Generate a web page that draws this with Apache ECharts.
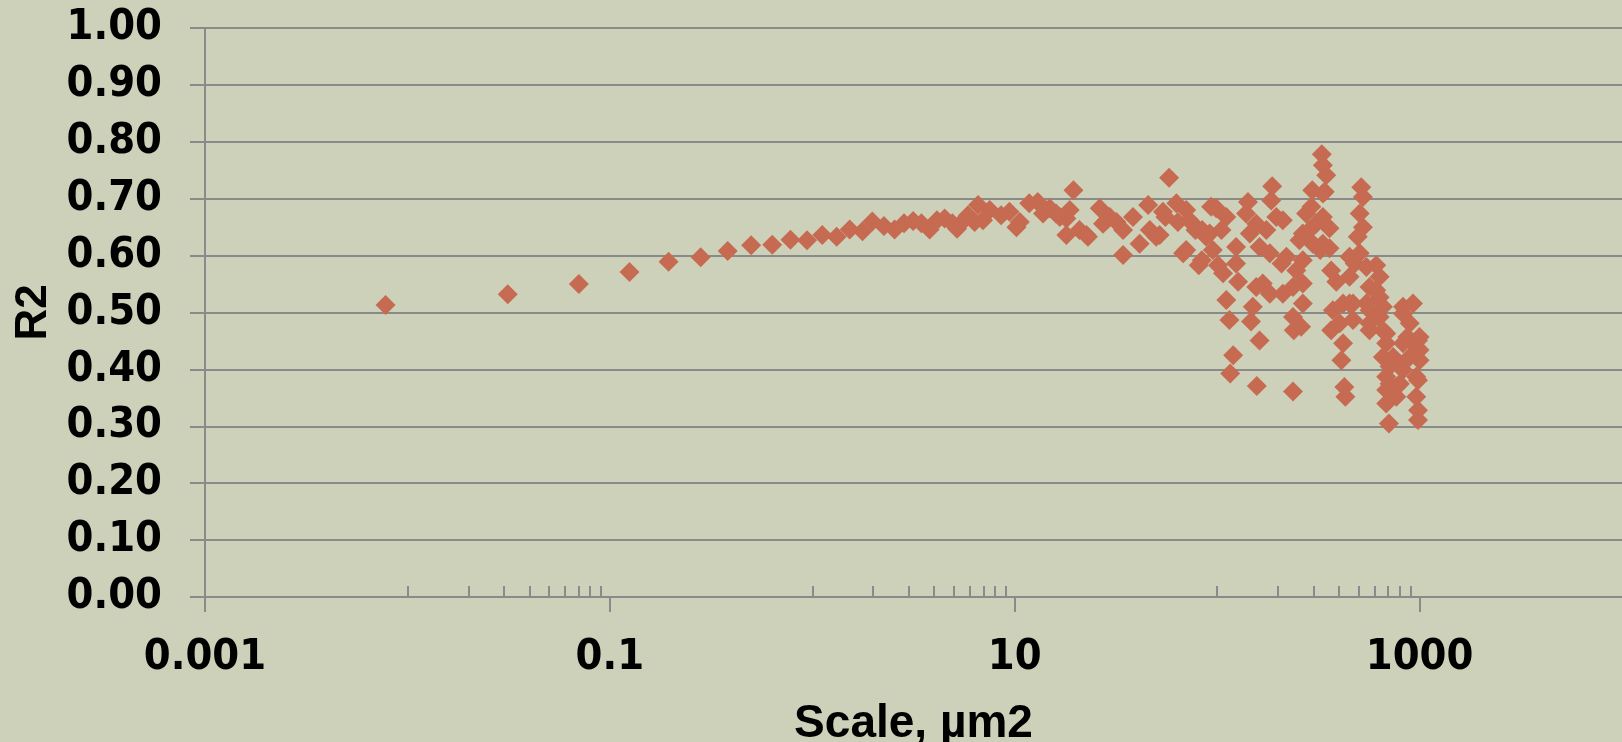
<!DOCTYPE html>
<html>
<head>
<meta charset="utf-8">
<script src="https://cdn.jsdelivr.net/npm/echarts@6/dist/echarts.min.js"></script>
<style>
  html, body { margin: 0; padding: 0; background: #cdd1b9; }
  #chart { width: 1622px; height: 742px; }
</style>
</head>
<body>
<div id="chart"></div>
<script>
// Scale (µm²) of each analysis window and the R² obtained at that scale
const scaleUm2 = [
  0.0078, 0.0313, 0.0703, 0.125, 0.195, 0.281, 0.382, 0.499, 0.634, 0.780,
  0.942, 1.12, 1.32, 1.53, 1.77, 1.98, 2.26, 2.55, 2.84, 3.15,
  3.46, 3.80, 4.13, 4.51, 4.92, 5.19, 5.56, 5.88, 6.34, 6.59,
  6.97, 7.53, 8.57, 9.42, 10.2, 10.6, 11.8, 13.0, 13.8, 14.9,
  16.0, 16.7, 18.0, 18.7, 19.5, 18.0, 20.9, 22.6, 23.0, 26.3,
  27.3, 28.4, 29.5, 31.8, 34.3, 34.3, 38.4, 41.4, 45.6, 46.5,
  50.0, 52.0, 54.0, 55.5, 57.9, 62.9, 64.0, 67.9, 70.3, 70.3,
  72.8, 75.8, 78.1, 81.1, 84.0, 84.3, 88.3, 91.8, 93.4, 95.2,
  98.9, 101, 105, 107, 111, 111, 115, 120, 116, 124,
  124, 127, 139, 142, 145, 147, 150, 156, 156, 157,
  162, 162, 168, 175, 182, 182, 185, 187, 196, 208,
  211, 211, 220, 237, 237, 239, 237, 246, 255, 260,
  265, 265, 265, 265, 275, 286, 292, 295, 297, 308,
  323, 329, 333, 333, 333, 333, 340, 346, 359, 359,
  366, 366, 373, 388, 403, 411, 419, 419, 425, 430,
  451, 451, 451, 469, 469, 478, 495, 506, 506, 515,
  525, 525, 546, 546, 566, 566, 566, 566, 611, 611,
  635, 635, 635, 659, 659, 659, 684, 684, 684, 684,
  684, 706, 711, 711, 740, 768, 768, 799, 799, 828,
  828, 828, 828, 870, 894, 894, 928, 963, 963, 963,
  982, 982, 982, 982, 1000, 1000, 1000
];
const r2Values = [
  0.513, 0.532, 0.550, 0.571, 0.589, 0.597, 0.608, 0.618, 0.619, 0.628,
  0.627, 0.636, 0.633, 0.646, 0.643, 0.660, 0.652, 0.646, 0.657, 0.661,
  0.657, 0.646, 0.662, 0.665, 0.657, 0.647, 0.661, 0.671, 0.659, 0.689,
  0.662, 0.680, 0.671, 0.677, 0.650, 0.659, 0.692, 0.694, 0.674, 0.683,
  0.674, 0.668, 0.665, 0.680, 0.715, 0.636, 0.645, 0.636, 0.633, 0.683,
  0.656, 0.662, 0.668, 0.659, 0.645, 0.601, 0.668, 0.621, 0.689, 0.645,
  0.633, 0.636, 0.677, 0.668, 0.737, 0.692, 0.659, 0.604, 0.680, 0.610,
  0.662, 0.656, 0.645, 0.583, 0.592, 0.645, 0.633, 0.639, 0.686, 0.610,
  0.683, 0.583, 0.645, 0.569, 0.668, 0.522, 0.487, 0.425, 0.393, 0.615,
  0.586, 0.554, 0.674, 0.694, 0.639, 0.484, 0.510, 0.656, 0.545, 0.371,
  0.615, 0.451, 0.551, 0.645, 0.604, 0.533, 0.697, 0.722, 0.668, 0.586,
  0.662, 0.533, 0.598, 0.545, 0.492, 0.469, 0.361, 0.574, 0.627, 0.475,
  0.516, 0.639, 0.551, 0.592, 0.674, 0.645, 0.686, 0.715, 0.621, 0.656,
  0.610, 0.778, 0.759, 0.709, 0.668, 0.621, 0.712, 0.741, 0.648, 0.613,
  0.574, 0.469, 0.504, 0.554, 0.481, 0.416, 0.446, 0.516, 0.369, 0.352,
  0.516, 0.563, 0.598, 0.487, 0.516, 0.586, 0.633, 0.674, 0.604, 0.720,
  0.703, 0.650, 0.580, 0.516, 0.545, 0.504, 0.469, 0.481, 0.583, 0.539,
  0.563, 0.527, 0.492, 0.469, 0.510, 0.422, 0.446, 0.463, 0.387, 0.364,
  0.340, 0.305, 0.405, 0.375, 0.422, 0.369, 0.352, 0.375, 0.410, 0.510,
  0.498, 0.446, 0.399, 0.457, 0.481, 0.422, 0.516, 0.440, 0.387, 0.352,
  0.451, 0.381, 0.328, 0.311, 0.457, 0.416, 0.434
];

// Axis ranges and tick positions
const xMin = 0.001;
const xMax = 10000;
const xLabelValues = [0.001, 0.1, 10, 1000];
const xMinorTickValues = [
  0.01, 0.02, 0.03, 0.04, 0.05, 0.06, 0.07, 0.08, 0.09,
  1, 2, 3, 4, 5, 6, 7, 8, 9,
  100, 200, 300, 400, 500, 600, 700, 800, 900
];
const yMin = 0;
const yMax = 1;
const yStep = 0.1;

const gridGray = '#8a8a8a';
const tickFont = 'DejaVu Sans Condensed, DejaVu Sans, sans-serif';
const titleFont = 'Liberation Sans, Arial, sans-serif';

function formatPow10(v) {
  const e = Math.round(Math.log10(v));
  return e < 0 ? Math.pow(10, e).toFixed(-e) : String(Math.pow(10, e));
}

const points = scaleUm2.map((x, i) => [x, r2Values[i]]);

const chart = echarts.init(document.getElementById('chart'), null, { renderer: 'canvas' });
chart.setOption({
  animation: false,
  backgroundColor: '#cdd1b9',
  grid: { left: 205, right: 0, top: 28, bottom: 145, containLabel: false, outerBoundsMode: 'none' },
  xAxis: [
    {
      type: 'log',
      logBase: 10,
      min: xMin,
      max: xMax,
      position: 'bottom',
      axisLine: { show: true, onZero: false, lineStyle: { color: gridGray, width: 2 } },
      axisTick: { show: true, inside: false, length: 15, customValues: xLabelValues,
        lineStyle: { color: gridGray, width: 2 } },
      axisLabel: { show: true, customValues: xLabelValues, formatter: formatPow10, margin: 39,
        fontFamily: tickFont, fontWeight: 'bold', fontSize: 43, color: '#000' },
      splitLine: { show: false },
      minorTick: { show: false },
      name: 'Scale, µm2',
      nameLocation: 'middle',
      nameGap: 104,
      nameTextStyle: { fontFamily: titleFont, fontWeight: 'bold', fontSize: 46, color: '#000' }
    },
    {
      type: 'log',
      logBase: 10,
      min: xMin,
      max: xMax,
      position: 'bottom',
      axisLine: { show: false, onZero: false },
      axisTick: { show: true, inside: true, length: 11, customValues: xMinorTickValues,
        lineStyle: { color: gridGray, width: 2 } },
      axisLabel: { show: false },
      splitLine: { show: false }
    }
  ],
  yAxis: {
    type: 'value',
    min: yMin,
    max: yMax,
    interval: yStep,
    axisLine: { show: true, lineStyle: { color: gridGray, width: 2 } },
    axisTick: { show: true, inside: false, length: 15, lineStyle: { color: gridGray, width: 2 } },
    splitLine: { show: true, lineStyle: { color: gridGray, width: 2 } },
    axisLabel: { formatter: v => v.toFixed(2), margin: 43,
      fontFamily: tickFont, fontWeight: 'bold', fontSize: 43, color: '#000' },
    name: 'R2',
    nameLocation: 'middle',
    nameRotate: 90,
    nameGap: 148,
    nameTextStyle: { fontFamily: titleFont, fontWeight: 'bold', fontSize: 44, color: '#000' }
  },
  series: [{
    type: 'scatter',
    xAxisIndex: 0,
    symbol: 'diamond',
    symbolSize: 20,
    itemStyle: { color: '#c66b52', opacity: 1 },
    emphasis: { disabled: true },
    data: points
  }]
});
</script>
</body>
</html>
